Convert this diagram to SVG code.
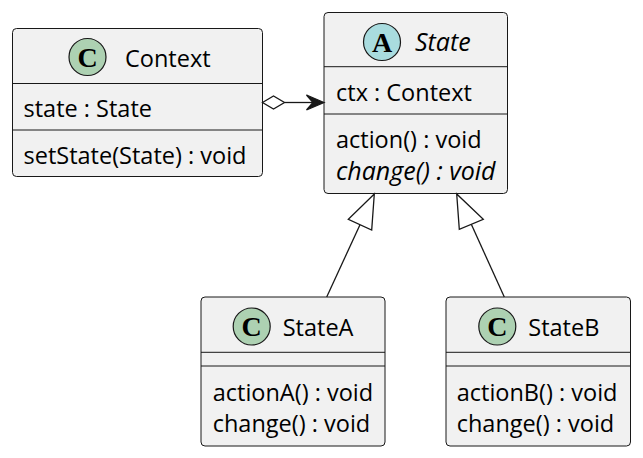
<svg xmlns="http://www.w3.org/2000/svg" width="643" height="458" viewBox="0 0 643 458">
<style>
.box{fill:#F1F1F1;stroke:#181818;stroke-width:1}
.sep{stroke:#181818;stroke-width:1}
.t{font-family:"Open Sans","Noto Sans",sans-serif;font-size:23.5px;fill:#000}
.i{font-style:italic;font-size:25px}
.cc{fill:#ADD1B2;stroke:#181818;stroke-width:1.2}
.ca{fill:#A9DCDF;stroke:#181818;stroke-width:1.2}
.L{font-family:"Liberation Serif","DejaVu Serif",serif;font-weight:bold;font-size:28px;fill:#000;text-anchor:middle}
.e{stroke:#181818;stroke-width:1.3;fill:none}
</style>
<rect width="643" height="458" fill="#FFFFFF"/>
<g id="Context">
<rect class="box" x="12.5" y="28.5" width="250" height="148" rx="4"/>
<line class="sep" x1="12.5" y1="83.5" x2="262.5" y2="83.5"/>
<line class="sep" x1="12.5" y1="130" x2="262.5" y2="130"/>
<circle class="cc" cx="87.5" cy="57" r="18.5"/>
<text class="L" x="87.5" y="66.5">C</text>
<text class="t" x="125" y="66.5">Context</text>
<text class="t" x="23.5" y="116.5">state : State</text>
<text class="t" x="23.5" y="163.5">setState(State) : void</text>
</g>
<g id="State">
<rect class="box" x="324" y="12.5" width="183.5" height="181" rx="4"/>
<line class="sep" x1="324" y1="66.7" x2="507.5" y2="66.7"/>
<line class="sep" x1="324" y1="114" x2="507.5" y2="114"/>
<circle class="ca" cx="382" cy="42" r="18.5"/>
<text class="L" x="382" y="51.5">A</text>
<text class="t i" x="415" y="51">State</text>
<text class="t" x="336" y="101">ctx : Context</text>
<text class="t" x="336" y="148">action() : void</text>
<text class="t i" x="336" y="180">change() : void</text>
</g>
<g id="StateA">
<rect class="box" x="201" y="297" width="184" height="149" rx="4"/>
<line class="sep" x1="201" y1="352.3" x2="385" y2="352.3"/>
<line class="sep" x1="201" y1="366" x2="385" y2="366"/>
<circle class="cc" cx="251.7" cy="326.5" r="18.5"/>
<text class="L" x="251.7" y="336">C</text>
<text class="t" x="282.7" y="335.7">StateA</text>
<text class="t" x="212.7" y="400.7">actionA() : void</text>
<text class="t" x="212.7" y="432.3">change() : void</text>
</g>
<g id="StateB">
<rect class="box" x="446" y="297" width="184.5" height="149" rx="4"/>
<line class="sep" x1="446" y1="352.3" x2="630.5" y2="352.3"/>
<line class="sep" x1="446" y1="366" x2="630.5" y2="366"/>
<circle class="cc" cx="497.3" cy="326.5" r="18.5"/>
<text class="L" x="497.3" y="336">C</text>
<text class="t" x="528.3" y="335.7">StateB</text>
<text class="t" x="456.7" y="400.7">actionB() : void</text>
<text class="t" x="456.7" y="432.3">change() : void</text>
</g>
<g id="connectors">
<polygon points="262.5,102.5 273.5,96 284.5,102.5 273.5,109" fill="#FFFFFF" stroke="#181818" stroke-width="1.3"/>
<line class="e" x1="284.5" y1="102.5" x2="313" y2="102.5"/>
<polygon points="324,102.5 306.5,95 313,102.5 306.5,110" fill="#181818" stroke="#181818" stroke-width="1.3"/>
<line class="e" x1="326.7" y1="297" x2="360" y2="224.7"/>
<polygon points="374.3,194 348.3,219.3 371.7,230" fill="#FFFFFF" stroke="#181818" stroke-width="1.3"/>
<line class="e" x1="504.3" y1="297" x2="471.3" y2="224.3"/>
<polygon points="456.7,194 459.3,229.3 483.3,219.3" fill="#FFFFFF" stroke="#181818" stroke-width="1.3"/>
</g>
</svg>
